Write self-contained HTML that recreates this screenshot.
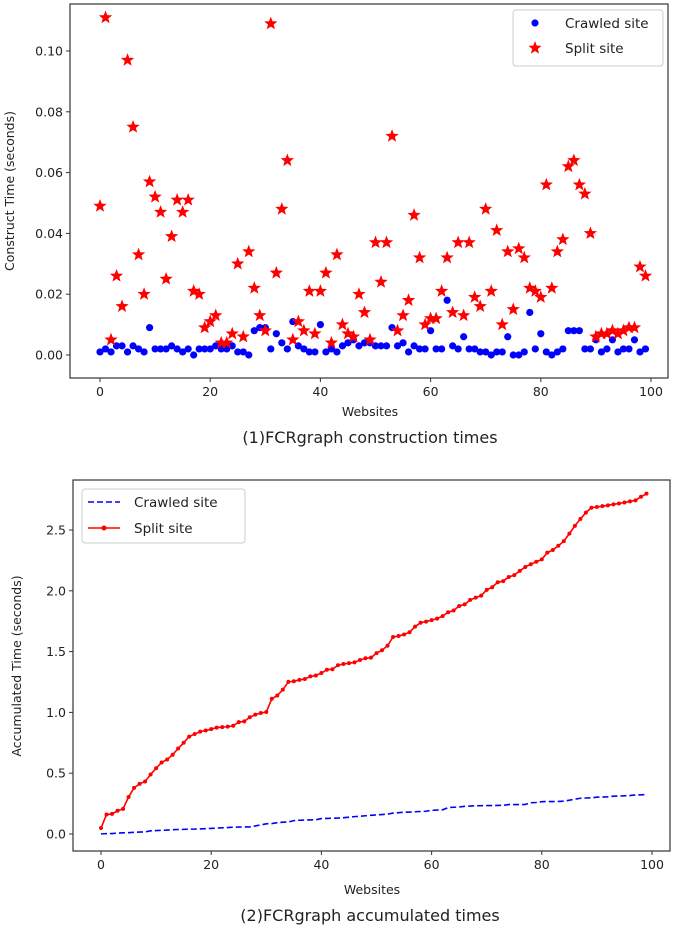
<!DOCTYPE html>
<html><head><meta charset="utf-8"><style>
body{margin:0;background:#fff;}
svg{display:block;font-family:"DejaVu Sans","Liberation Sans",sans-serif;}
</style></head><body>
<svg id="fig" width="685" height="931" viewBox="0 0 685 931" xmlns="http://www.w3.org/2000/svg"></svg>
<script>
const crawled=[0.001,0.002,0.001,0.003,0.003,0.001,0.003,0.002,0.001,0.009,0.002,0.002,0.002,0.003,0.002,0.001,0.002,0.000,0.002,0.002,0.002,0.003,0.002,0.002,0.003,0.001,0.001,0.000,0.008,0.009,0.009,0.002,0.007,0.004,0.002,0.011,0.003,0.002,0.001,0.001,0.010,0.001,0.002,0.001,0.003,0.004,0.005,0.003,0.004,0.004,0.003,0.003,0.003,0.009,0.003,0.004,0.001,0.003,0.002,0.002,0.008,0.002,0.002,0.018,0.003,0.002,0.006,0.002,0.002,0.001,0.001,0.000,0.001,0.001,0.006,0.000,0.000,0.001,0.014,0.002,0.007,0.001,0.000,0.001,0.002,0.008,0.008,0.008,0.002,0.002,0.005,0.001,0.002,0.005,0.001,0.002,0.002,0.005,0.001,0.002];
const split=[0.049,0.111,0.005,0.026,0.016,0.097,0.075,0.033,0.020,0.057,0.052,0.047,0.025,0.039,0.051,0.047,0.051,0.021,0.020,0.009,0.011,0.013,0.004,0.004,0.007,0.030,0.006,0.034,0.022,0.013,0.008,0.109,0.027,0.048,0.064,0.005,0.011,0.008,0.021,0.007,0.021,0.027,0.004,0.033,0.010,0.007,0.006,0.020,0.014,0.005,0.037,0.024,0.037,0.072,0.008,0.013,0.018,0.046,0.032,0.010,0.012,0.012,0.021,0.032,0.014,0.037,0.013,0.037,0.019,0.016,0.048,0.021,0.041,0.010,0.034,0.015,0.035,0.032,0.022,0.021,0.019,0.056,0.022,0.034,0.038,0.062,0.064,0.056,0.053,0.040,0.006,0.007,0.007,0.008,0.007,0.008,0.009,0.009,0.029,0.026];
const xTicks=[0,20,40,60,80,100];
const yTicks1=[0,0.02,0.04,0.06,0.08,0.10];
const yTicks2=[0,0.5,1.0,1.5,2.0,2.5];

const NS="http://www.w3.org/2000/svg";
const svg=document.getElementById('fig');
function el(tag,attrs,parent){const e=document.createElementNS(NS,tag);for(const k in attrs)e.setAttribute(k,attrs[k]);(parent||svg).appendChild(e);return e;}
function txt(s,attrs,parent){const t=el('text',attrs,parent);t.textContent=s;return t;}

const x1=v=>100+v*5.51, y1=v=>355-v*3040;
const x2=v=>101+v*5.51, y2=v=>834-v*121.6;

function axes(L,T,R,B,xf,yf,yt,fmt,name){
  const g=el('g',{});
  
  
  el('rect',{x:L,y:T,width:R-L,height:B-T,fill:'none',stroke:'#333','stroke-width':1.2},g);
  xTicks.forEach(v=>{const x=xf(v);el('line',{x1:x,x2:x,y1:B,y2:B+4,stroke:'#333'},g);
    const t=txt(String(v),{x:x,y:B+18,'text-anchor':'middle','font-size':12.5,fill:'#222'},g);
    });
  yt.forEach(v=>{const y=yf(v);el('line',{x1:L-4,x2:L,y1:y,y2:y,stroke:'#333'},g);
    const t=txt(fmt(v),{x:L-7,y:y+4.5,'text-anchor':'end','font-size':12.5,fill:'#222'},g);
    });
  return g;
}
axes(70,4,668,378,x1,y1,yTicks1,v=>v.toFixed(2),'top-axes');
axes(73,480,670,851,x2,y2,yTicks2,v=>v.toFixed(1),'bottom-axes');

function star(cx,cy,r,parent){let p='';for(let i=0;i<10;i++){const a=-Math.PI/2+i*Math.PI/5;const rr=i%2?r*0.42:r;p+=(i?'L':'M')+(cx+rr*Math.cos(a)).toFixed(2)+','+(cy+rr*Math.sin(a)).toFixed(2);}return el('path',{d:p+'Z',fill:'#ff0000'},parent);}

const sc=el('g',{});
crawled.forEach((v,i)=>{const c=el('circle',{cx:x1(i),cy:y1(v),r:3.6,fill:'#0000ff'},sc);
  });
split.forEach((v,i)=>{const s=star(x1(i),y1(v),7,sc);
  });

let a=0,b=0;const cumC=crawled.map(v=>a+=v),cumS=split.map(v=>b+=v);
const lc=el('polyline',{points:cumC.map((v,i)=>x2(i)+','+y2(v)).join(' '),fill:'none',stroke:'#0000ff','stroke-width':1.6,'stroke-dasharray':'6,3'});

const ls=el('polyline',{points:cumS.map((v,i)=>x2(i)+','+y2(v)).join(' '),fill:'none',stroke:'#ff0000','stroke-width':1.6});

cumS.forEach((v,i)=>{const c=el('circle',{cx:x2(i),cy:y2(v),r:2,fill:'#ff0000'});
  });

const lg1=el('g',{});

el('rect',{x:513,y:10,width:150,height:56,rx:3,fill:'#fff',stroke:'#ccc'},lg1);
el('circle',{cx:535,cy:23,r:3.6,fill:'#0000ff'},lg1);
star(535,48,7,lg1);
txt('Crawled site',{x:565,y:28,'font-size':13.5,fill:'#222'},lg1);
txt('Split site',{x:565,y:53,'font-size':13.5,fill:'#222'},lg1);

const lg2=el('g',{});

el('rect',{x:82,y:489,width:163,height:54,rx:3,fill:'#fff',stroke:'#ccc'},lg2);
el('line',{x1:88,x2:120,y1:502,y2:502,stroke:'#0000ff','stroke-width':1.6,'stroke-dasharray':'6,3'},lg2);
el('line',{x1:88,x2:120,y1:528,y2:528,stroke:'#ff0000','stroke-width':1.6},lg2);
el('circle',{cx:104,cy:528,r:2.5,fill:'#ff0000'},lg2);
txt('Crawled site',{x:134,y:507,'font-size':13.5,fill:'#222'},lg2);
txt('Split site',{x:134,y:533,'font-size':13.5,fill:'#222'},lg2);

function lab(s,attrs,name){const t=txt(s,attrs);}
lab('Websites',{x:370,y:416,'text-anchor':'middle','font-size':12.5,fill:'#222'},'x-axis-title-top');
lab('Websites',{x:372,y:894,'text-anchor':'middle','font-size':12.5,fill:'#222'},'x-axis-title-bottom');
lab('Construct Time (seconds)',{x:0,y:0,'text-anchor':'middle','font-size':12.5,fill:'#222',transform:'translate(14,191) rotate(-90)'},'y-axis-title-top');
lab('Accumulated Time (seconds)',{x:0,y:0,'text-anchor':'middle','font-size':12.5,fill:'#222',transform:'translate(21,666) rotate(-90)'},'y-axis-title-bottom');
lab('(1)FCRgraph construction times',{x:370,y:443,'text-anchor':'middle','font-size':16,fill:'#222'},'title-top');
lab('(2)FCRgraph accumulated times',{x:370,y:921,'text-anchor':'middle','font-size':16,fill:'#222'},'title-bottom');
</script>
</body></html>
